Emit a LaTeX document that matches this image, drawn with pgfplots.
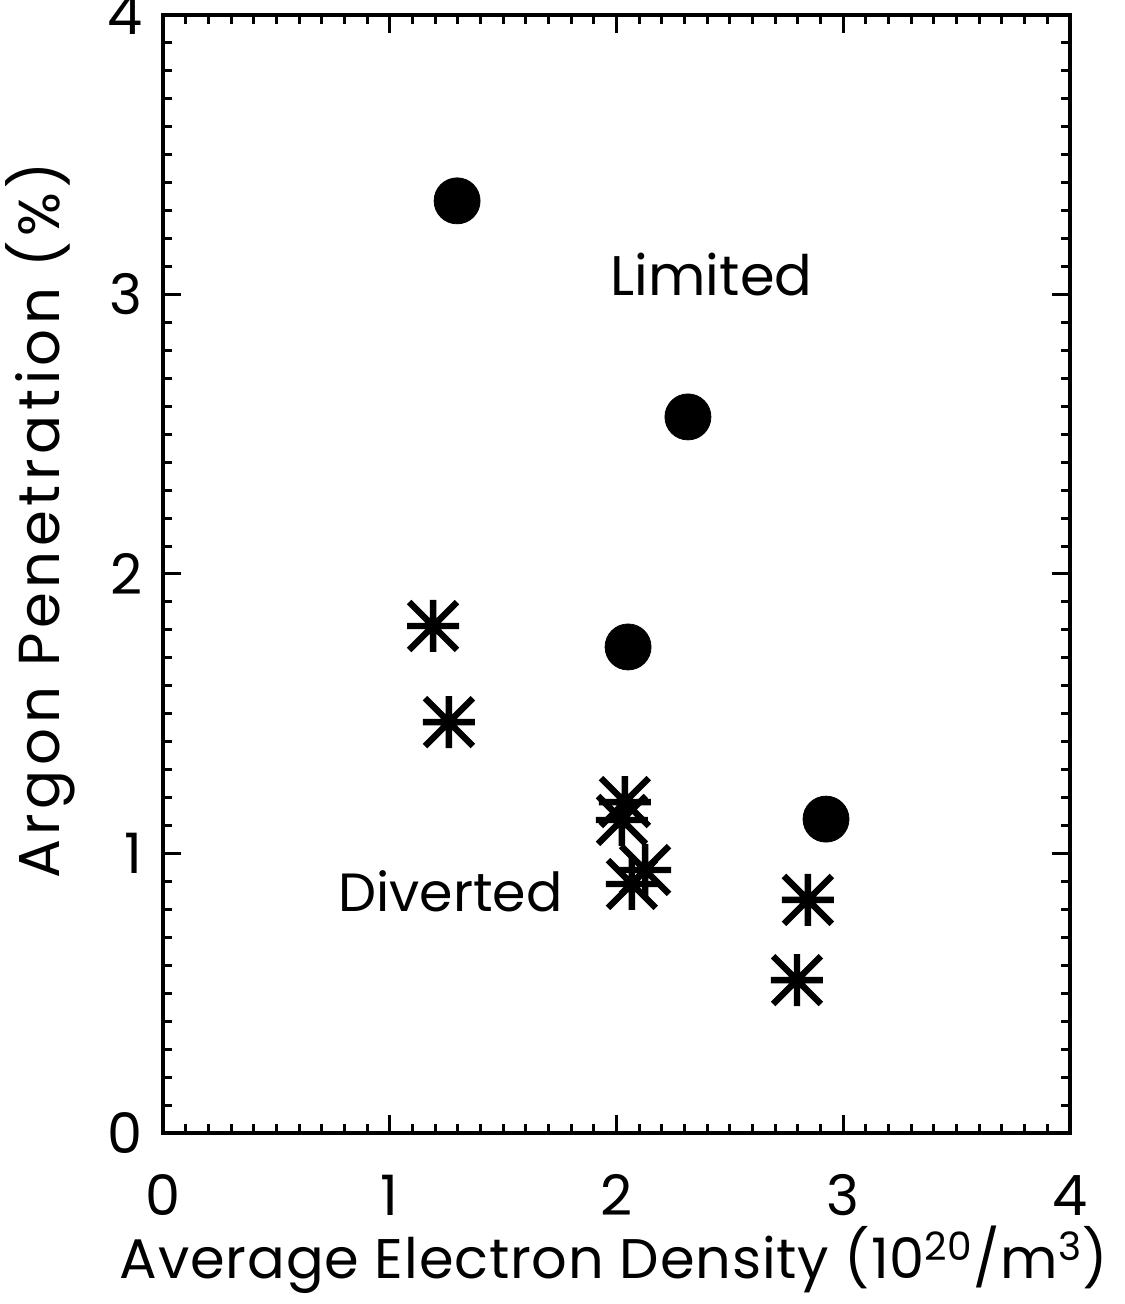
\documentclass[border=0pt]{standalone}
\usepackage{pgfplots}
\pgfplotsset{compat=1.18}
\usepackage{fontspec}
\setmainfont{Poppins}
\pgfdeclareplotmark{ast8}{%
 \pgfpathmoveto{\pgfqpoint{0pt}{\pgfplotmarksize}}\pgfpathlineto{\pgfqpoint{0pt}{-\pgfplotmarksize}}%
 \pgfpathmoveto{\pgfqpoint{\pgfplotmarksize}{0pt}}\pgfpathlineto{\pgfqpoint{-\pgfplotmarksize}{0pt}}%
 \pgfpathmoveto{\pgfqpoint{0.92\pgfplotmarksize}{0.92\pgfplotmarksize}}\pgfpathlineto{\pgfqpoint{-0.92\pgfplotmarksize}{-0.92\pgfplotmarksize}}%
 \pgfpathmoveto{\pgfqpoint{-0.92\pgfplotmarksize}{0.92\pgfplotmarksize}}\pgfpathlineto{\pgfqpoint{0.92\pgfplotmarksize}{-0.92\pgfplotmarksize}}%
 \pgfusepathqstroke}
\newcommand{\bigf}{\fontsize{28}{32}\selectfont}
\begin{document}
\begin{tikzpicture}
\begin{axis}[
  name=ax,
  scale only axis,
  width=453.5bp, height=559bp,
  xmin=0, xmax=4, ymin=0, ymax=4,
  xtick={0,1,2,3,4}, ytick={0,1,2,3,4},
  minor x tick num=9, minor y tick num=9,
  tick align=inside,
  major tick length=9bp, minor tick length=4.5bp,
  axis line style={line width=2.2bp},
  every tick/.style={line width=1.5bp, black},
  /pgf/number format/assume math mode=true,
  tick label style={font=\bigf, inner sep=0pt},
  xticklabel style={anchor=base, yshift=-41bp},
  yticklabel style={anchor=east, xshift=-10bp},
  label style={inner sep=0pt},
  xlabel={Average Electron Density (10\textsuperscript{20}/m\textsuperscript{3})},
  ylabel={Argon Penetration (\%)},
  xlabel style={font=\bigf\addfontfeatures{LetterSpace=1.5}, at={(axis description cs:0.497,-0.1305)}, anchor=base},
  ylabel style={font=\fontsize{29}{33}\selectfont\addfontfeatures{LetterSpace=8}, at={(axis description cs:-0.1136,0.548)}, anchor=base},
  clip=false,
]
\addplot[only marks, mark=*, mark size=11.5bp, black] coordinates {
 (1.297,3.335) (2.315,2.562) (2.051,1.739) (2.924,1.123)
};
\addplot[only marks, mark=ast8, mark size=13bp, black, line width=3.2bp] coordinates {
 (1.191,1.814) (1.261,1.470) (2.037,1.184) (2.024,1.120)
 (2.068,0.891) (2.126,0.941) (2.844,0.834) (2.796,0.547)
};
\node[font=\bigf, anchor=base, inner sep=0pt] at (axis cs:2.419,2.995) {Limited};
\node[font=\fontsize{27}{31}\selectfont, anchor=base, inner sep=0pt] at (axis cs:1.268,0.794) {Diverted};
\end{axis}
\pgfresetboundingbox
\path[use as bounding box] ([xshift=-81.5bp,yshift=-85.5bp]ax.south west) rectangle ([xshift=27.5bp,yshift=7.5bp]ax.north east);
\end{tikzpicture}
\end{document}
